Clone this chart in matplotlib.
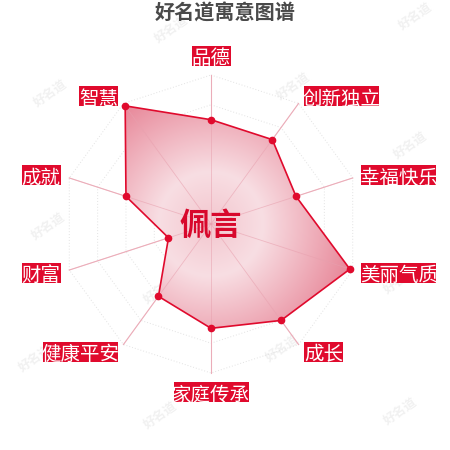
import numpy as np
import matplotlib
matplotlib.use("Agg")
import matplotlib.pyplot as plt
from matplotlib.patches import Polygon, Rectangle

plt.rcParams['font.family'] = ['Noto Sans CJK SC', 'DejaVu Sans']

title = "好名道寓意图谱"
name = "佩言"
labels = ["品德", "创新独立", "幸福快乐", "美丽气质", "成长",
          "家庭传承", "健康平安", "财富", "成就", "智慧"]
values = [70, 70, 60, 98, 80, 70, 60, 30, 60, 98]
max_value = 100

# pixel-like layout
W = 450
cx, cy, R = 211, 224, 149
red = '#e00a2d'

fig = plt.figure(figsize=(4.5, 4.5), dpi=100)
ax = fig.add_axes([0, 0, 1, 1])
ax.set_xlim(0, W)
ax.set_ylim(W, 0)
ax.axis('off')

n = len(labels)
theta = np.arange(n) * 2 * np.pi / n
sx, sy = np.sin(theta), -np.cos(theta)

# watermarks
wm = [(171, 29), (415, 16), (50, 93), (293, 86), (410, 145), (170, 155),
      (48, 226), (290, 215), (400, 280), (160, 290), (35, 358), (282, 348),
      (160, 415), (400, 411)]
for x, y in wm:
    ax.text(x, y, "好名道", fontsize=9, color='#f1f1f1', rotation=35,
            ha='center', va='center', fontweight='bold', zorder=0)

# grid rings
for lv in np.linspace(0.2, 1.0, 5):
    gx = np.append(cx + R * lv * sx, cx + R * lv * sx[0])
    gy = np.append(cy + R * lv * sy, cy + R * lv * sy[0])
    ax.plot(gx, gy, color='#e2e2e2', lw=0.7, ls=(0, (1, 2)), zorder=1)

# axis lines
for i in range(n):
    ax.plot([cx, cx + R * sx[i]], [cy, cy + R * sy[i]],
            color='#f0bcc6', lw=0.8, zorder=1)

# data polygon with radial gradient
r = np.array(values) / max_value * R
px = cx + r * sx
py = cy + r * sy
poly = Polygon(np.column_stack([px, py]), closed=True, fc='none',
               ec='none', zorder=2)
ax.add_patch(poly)

yy, xx = np.mgrid[0:W, 0:W] + 0.5
d = np.hypot(xx - cx, yy - cy) / R
stops = [0.0, 0.35, 1.0]
cols = np.array([[243, 198, 206], [248, 222, 227], [231, 132, 150]]) / 255
img = np.dstack([np.interp(d, stops, cols[:, k]) for k in range(3)])
im = ax.imshow(img, extent=(0, W, W, 0), zorder=2, interpolation='bilinear')
im.set_clip_path(poly)

# axis lines visible through the fill
for i in range(n):
    ax.plot([cx, cx + R * sx[i]], [cy, cy + R * sy[i]],
            color='#e8a0ae', lw=0.6, alpha=0.6, zorder=3)

ax.plot(np.append(px, px[0]), np.append(py, py[0]), color=red, lw=1.2, zorder=4)
ax.plot(px, py, 'o', color=red, ms=4.5, zorder=5)

# axis name labels
gap = 9
ch = 18
bh = 20
for i, lab in enumerate(labels):
    axp = cx + (R + gap) * sx[i]
    ayp = cy + (R + gap) * sy[i]
    bw = len(lab) * ch + 3
    if abs(sx[i]) < 1e-6:
        x0 = axp - bw / 2
    elif sx[i] > 0:
        x0 = axp
    else:
        x0 = axp - bw
    if abs(sx[i]) < 1e-6 and sy[i] < 0:
        y0 = ayp - bh
    elif abs(sx[i]) < 1e-6 and sy[i] > 0:
        y0 = ayp
    else:
        y0 = ayp - bh / 2
    ax.add_patch(Rectangle((x0, y0), bw, bh, fc=red, ec='none', zorder=6))
    ax.text(x0 + bw / 2, y0 + bh / 2 + 0.5, lab, color='white', fontsize=14,
            ha='center', va='center_baseline', zorder=7)

ax.text(cx, cy - 2, name, color='#d8082c', fontsize=22.5, fontweight='bold',
        ha='center', va='center_baseline', zorder=8)

ax.text(225, 11, title, color='#4a4a4a', fontsize=14.5, fontweight='bold',
        ha='center', va='center_baseline', zorder=8)

fig.savefig('out.png', dpi=100)
